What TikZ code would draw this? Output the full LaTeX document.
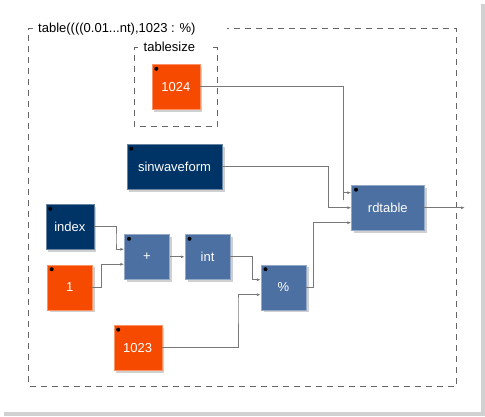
\documentclass[tikz,border=0pt]{standalone}
\usepackage{fontspec}
\setmainfont{Liberation Sans}
\usepackage{tikz}
\usetikzlibrary{shadows,arrows.meta,calc}
\definecolor{numorange}{RGB}{246,74,0}
\definecolor{uiblue}{RGB}{0,51,102}
\definecolor{primblue}{RGB}{75,112,161}
\definecolor{wiregray}{RGB}{120,120,120}
\tikzset{
  blockbox/.style={minimum height=45pt, inner sep=0pt, text=white,
    drop shadow={shadow xshift=2.5pt, shadow yshift=-2.5pt, opacity=0.3, fill=black!60},
    path picture={\fill[black] ([xshift=4.5pt,yshift=-4.5pt]path picture bounding box.north west) circle (2pt);}},
  numbox/.style={blockbox, fill=numorange, draw=numorange!60!white, minimum width=48pt},
  uibox/.style={blockbox, fill=uiblue, draw=uiblue!60!white},
  primbox/.style={blockbox, fill=primblue, draw=primblue!60!white, minimum width=45pt},
  wire/.style={draw=wiregray, line width=0.8pt, -{Latex[length=4pt,width=3pt]}},
  groupline/.style={draw=black!60, line width=0.6pt, dash pattern=on 6pt off 5pt}
}
\begin{document}
\begin{tikzpicture}[x=1pt, y=-1pt, font=\fontsize{13}{15}\selectfont]
\useasboundingbox (0,0) rectangle (485,416);
\fill[black!18] (4,4) rectangle (485,416);
\fill[white] (0,0) rectangle (481,412);

% groups
\draw[groupline] (33,28.5) -- (28.5,28.5) -- (28.5,386) -- (456.5,386) -- (456.5,28.5) -- (227,28.5);
\node[anchor=base west, inner sep=0pt] (tabletitle) at (38,32) {table((((0.01...nt),1023 : \%)};
\draw[groupline] (138,47.5) -- (134,47.5) -- (134,126) -- (217,126) -- (217,47.5) -- (211,47.5);
\node[anchor=base west, inner sep=0pt] (sizetitle) at (143.5,51) {tablesize};

% blocks
\node[numbox] (size) at (175.8,86.8) {1024};
\node[uibox, minimum width=95.5pt] (wave) at (174.5,166.7) {sinwaveform};
\node[uibox, minimum width=48pt] (index) at (69.8,226.8) {index};
\node[numbox, minimum width=45pt] (one) at (69.7,287.2) {1};
\node[primbox] (plus) at (147,256.8) {+};
\node[primbox] (int) at (207.5,256.8) {int};
\node[primbox] (mod) at (283.5,287.2) {\%};
\node[numbox] (maxidx) at (137.7,347.7) {1023};
\node[primbox, minimum width=72.5pt] (rdtable) at (387.8,207.7) {rdtable};

\coordinate (out) at (465,207.7);

% wires
\draw[wire] (size.east) -| (343.3,200) |- ($(rdtable.west)+(0,-15)$);
\draw[wire] (wave.east) -| (328.3,200) |- (rdtable.west);
\draw[wire] (mod.east) -| (313.3,240) |- ($(rdtable.west)+(0,15)$);
\draw[wire] (index.east) -| (116,240) |- ($(plus.west)+(0,-7.5)$);
\draw[wire] (one.east) -| (101.7,270) |- ($(plus.west)+(0,7.5)$);
\draw[wire] (plus.east) -- (int.west);
\draw[wire] (int.east) -| (252.5,270) |- ($(mod.west)+(0,-7.5)$);
\draw[wire] (maxidx.east) -| (238,300) |- ($(mod.west)+(0,7.5)$);
\draw[wire] (rdtable.east) -- (out);
\end{tikzpicture}
\end{document}
